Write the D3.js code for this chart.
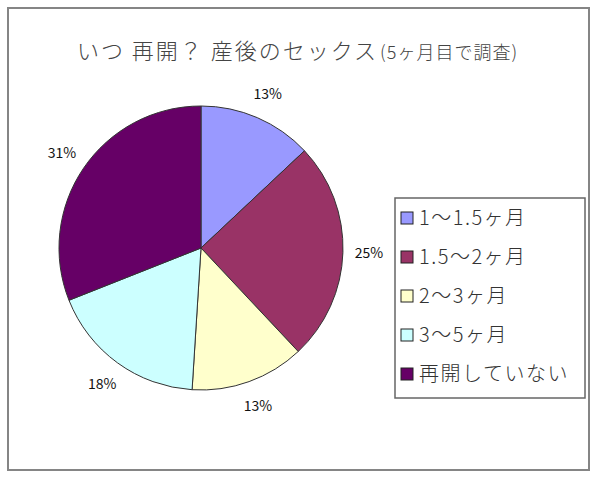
<!DOCTYPE html>
<html>
<head>
<meta charset="utf-8">
<script src="https://cdn.jsdelivr.net/npm/d3@7"></script>
<style>
  body { margin: 0; background: #fff; }
  text { font-family: "Noto Sans CJK JP", sans-serif; }
</style>
</head>
<body>
<svg id="chart"></svg>
<script>
// chart data
const categories = ['1～1.5ヶ月', '1.5～2ヶ月', '2～3ヶ月', '3～5ヶ月', '再開していない'];
const values = [13, 25, 13, 18, 31];
const labels = ['13%', '25%', '13%', '18%', '31%'];
const colors = ['#9999ff', '#993366', '#ffffcc', '#ccffff', '#660066'];

const width = 600, height = 479;
const cx = 201, cy = 248, radius = 142;

const svg = d3.select('#chart')
    .attr('width', width)
    .attr('height', height);

// outer frame
svg.append('rect')
    .attr('x', 8).attr('y', 8)
    .attr('width', 581).attr('height', 462)
    .attr('fill', '#fff')
    .attr('stroke', '#858585')
    .attr('stroke-width', 2);

// title
const title = svg.append('text')
    .attr('x', 77).attr('y', 59)
    .attr('fill', '#444')
    .attr('font-weight', 300);
title.append('tspan')
    .attr('font-size', 22)
    .attr('letter-spacing', 2)
    .text('いつ 再開？ 産後のセックス');
title.append('tspan')
    .attr('font-size', 18)
    .attr('letter-spacing', 1)
    .attr('dx', 2)
    .text('(5ヶ月目で調査)');

const pie = d3.pie().sort(null).value(d => d);
const arcs = pie(values);
const arc = d3.arc().innerRadius(0).outerRadius(radius);

const g = svg.append('g')
    .attr('transform', `translate(${cx},${cy})`);

g.selectAll('path')
    .data(arcs)
    .join('path')
    .attr('d', arc)
    .attr('fill', (d, i) => colors[i])
    .attr('stroke', '#333')
    .attr('stroke-width', 1);

// percent labels outside the pie
const labelArc = d3.arc().innerRadius(radius + 26).outerRadius(radius + 26);
g.selectAll('text.pct')
    .data(arcs)
    .join('text')
    .attr('class', 'pct')
    .attr('transform', d => `translate(${labelArc.centroid(d)})`)
    .attr('text-anchor', 'middle')
    .attr('dy', '0.35em')
    .attr('font-family', 'Arial, "Liberation Sans", sans-serif')
    .attr('font-size', 14)
    .attr('fill', '#111')
    .text((d, i) => labels[i]);

// legend
const legend = svg.append('g')
    .attr('transform', 'translate(395,198)');

legend.append('rect')
    .attr('width', 190).attr('height', 200)
    .attr('fill', '#fff')
    .attr('stroke', '#666')
    .attr('stroke-width', 1.5);

const rowY = d3.scalePoint()
    .domain(categories)
    .range([20, 176]);

const item = legend.selectAll('g.item')
    .data(categories)
    .join('g')
    .attr('class', 'item')
    .attr('transform', d => `translate(0,${rowY(d)})`);

item.append('rect')
    .attr('x', 6).attr('y', -6)
    .attr('width', 12).attr('height', 12)
    .attr('fill', (d, i) => colors[i])
    .attr('stroke', '#222')
    .attr('stroke-width', 1);

item.append('text')
    .attr('x', 24)
    .attr('dy', '0.36em')
    .attr('font-size', 20)
    .attr('letter-spacing', 1.5)
    .attr('font-weight', 300)
    .attr('fill', '#333')
    .text(d => d);
</script>
</body>
</html>
